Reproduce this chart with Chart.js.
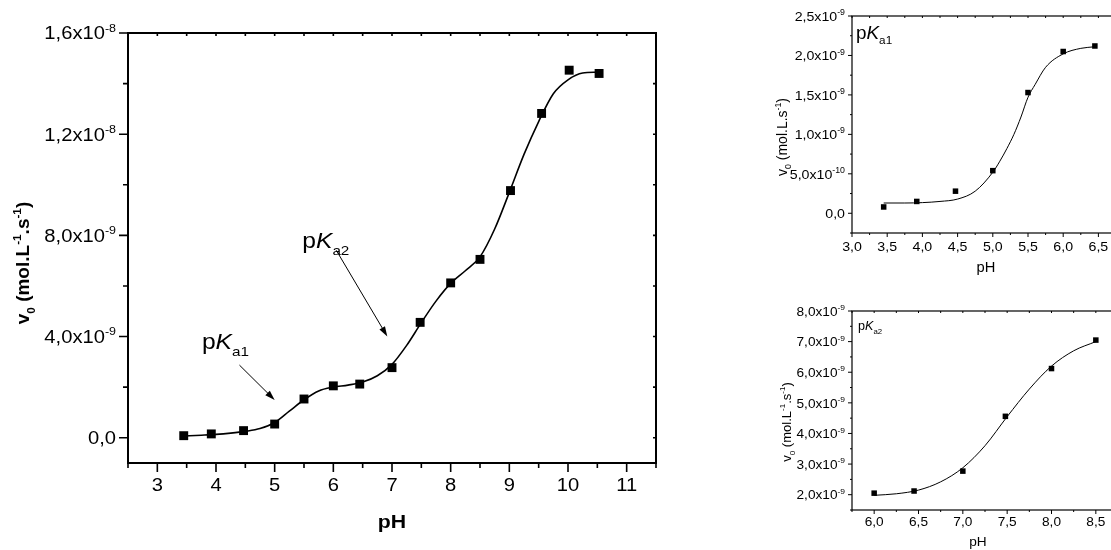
<!DOCTYPE html>
<html>
<head>
<meta charset="utf-8">
<script src="https://cdn.jsdelivr.net/npm/chart.js@4.4.1/dist/chart.umd.min.js"></script>
<style>
  html, body { margin: 0; padding: 0; background: #fff; overflow: hidden; width: 1111px; height: 550px; }
  canvas { position: absolute; }
</style>
</head>
<body>
<canvas id="mainChart" width="700" height="550" style="left:0px;top:0px"></canvas>
<canvas id="ka1Chart" width="360" height="275" style="left:760px;top:0px"></canvas>
<canvas id="ka2Chart" width="362" height="260" style="left:760px;top:290px"></canvas>
<script>
// Measured initial rates v0 (mol.L-1.s-1) against pH
const phValues = [3.45, 3.92, 4.47, 5.0, 5.5, 6.0, 6.45, 7.0, 7.48, 8.0, 8.5, 9.02, 9.55, 10.02, 10.53];
const v0Values = [0.08e-9, 0.15e-9, 0.28e-9, 0.54e-9, 1.53e-9, 2.05e-9, 2.12e-9, 2.77e-9, 4.56e-9, 6.12e-9, 7.05e-9, 9.77e-9, 12.82e-9, 14.53e-9, 14.40e-9];

// Fitted curve over the full pH range
const fitPh = [3.45, 3.75, 4.0, 4.25, 4.5, 4.75, 5.0, 5.25, 5.5, 5.75, 6.0, 6.25, 6.5, 6.75, 7.0, 7.25, 7.5, 7.75, 8.0, 8.25, 8.5, 8.75, 9.0, 9.25, 9.5, 9.75, 10.0, 10.25, 10.5];
const fitV0 = [0.07e-9, 0.1e-9, 0.13e-9, 0.18e-9, 0.25e-9, 0.36e-9, 0.6e-9, 1.05e-9, 1.5e-9, 1.85e-9, 2.0e-9, 2.08e-9, 2.2e-9, 2.45e-9, 2.9e-9, 3.65e-9, 4.55e-9, 5.4e-9, 6.1e-9, 6.6e-9, 7.15e-9, 8.25e-9, 9.7e-9, 11.2e-9, 12.5e-9, 13.6e-9, 14.15e-9, 14.42e-9, 14.45e-9];

// First ionisation (pKa1) fit
const ka1FitPh = [3.45, 3.75, 4.0, 4.25, 4.5, 4.75, 5.0, 5.1, 5.2, 5.3, 5.4, 5.5, 5.6, 5.75, 6.0, 6.25, 6.45];
const ka1FitV0 = [0.13e-9, 0.13e-9, 0.135e-9, 0.15e-9, 0.18e-9, 0.28e-9, 0.52e-9, 0.66e-9, 0.82e-9, 1.0e-9, 1.22e-9, 1.47e-9, 1.63e-9, 1.85e-9, 2.02e-9, 2.09e-9, 2.11e-9];

// Second ionisation (pKa2) fit
const ka2FitPh = [6.0, 6.25, 6.5, 6.75, 7.0, 7.25, 7.5, 7.75, 8.0, 8.25, 8.5];
const ka2FitV0 = [1.98e-9, 2.03e-9, 2.15e-9, 2.42e-9, 2.88e-9, 3.6e-9, 4.55e-9, 5.45e-9, 6.2e-9, 6.7e-9, 7.0e-9];

// Axis ticks and their labels ([mantissa, exponent])
const mainXTicks = [3, 4, 5, 6, 7, 8, 9, 10, 11];
const mainXLabels = ['3', '4', '5', '6', '7', '8', '9', '10', '11'];
const mainYTicks = [0, 4e-9, 8e-9, 1.2e-8, 1.6e-8];
const mainYLabels = [['0,0', ''], ['4,0x10', '-9'], ['8,0x10', '-9'], ['1,2x10', '-8'], ['1,6x10', '-8']];

const ka1XTicks = [3.0, 3.5, 4.0, 4.5, 5.0, 5.5, 6.0, 6.5];
const ka1XLabels = ['3,0', '3,5', '4,0', '4,5', '5,0', '5,5', '6,0', '6,5'];
const ka1YTicks = [0, 5e-10, 1e-9, 1.5e-9, 2e-9, 2.5e-9];
const ka1YLabels = [['0,0', ''], ['5,0x10', '-10'], ['1,0x10', '-9'], ['1,5x10', '-9'], ['2,0x10', '-9'], ['2,5x10', '-9']];

const ka2XTicks = [6.0, 6.5, 7.0, 7.5, 8.0, 8.5];
const ka2XLabels = ['6,0', '6,5', '7,0', '7,5', '8,0', '8,5'];
const ka2YTicks = [2e-9, 3e-9, 4e-9, 5e-9, 6e-9, 7e-9, 8e-9];
const ka2YLabels = [['2,0x10', '-9'], ['3,0x10', '-9'], ['4,0x10', '-9'], ['5,0x10', '-9'], ['6,0x10', '-9'], ['7,0x10', '-9'], ['8,0x10', '-9']];

const FONT = "'Liberation Sans', Arial, sans-serif";

// Text with italic, subscript and superscript runs: segs = [[text, kind], ...]
// stretch widens the glyphs horizontally
function drawRich(ctx, segs, x, y, align, size, weight, stretch) {
  const fontFor = (k) => {
    const small = k === 'sup' || k === 'sub';
    const s = small ? size * 0.62 : size;
    return `${k === 'i' ? 'italic ' : ''}${weight} ${s}px ${FONT}`;
  };
  let w = 0;
  for (const [t, k] of segs) { ctx.font = fontFor(k); w += ctx.measureText(t).width; }
  w *= stretch;
  const x0 = align === 'center' ? x - w / 2 : align === 'right' ? x - w : x;
  ctx.save();
  ctx.translate(x0, y);
  ctx.scale(stretch, 1);
  ctx.textAlign = 'left';
  ctx.textBaseline = 'alphabetic';
  let cx = 0;
  for (const [t, k] of segs) {
    ctx.font = fontFor(k);
    const dy = k === 'sup' ? -size * 0.43 : k === 'sub' ? size * 0.3 : 0;
    ctx.fillText(t, cx, dy);
    cx += ctx.measureText(t).width;
  }
  ctx.restore();
}

function stepValues(min, max, step) {
  const out = [];
  const k0 = Math.ceil(min / step - 1e-6), k1 = Math.floor(max / step + 1e-6);
  for (let k = k0; k <= k1; k++) out.push(k * step);
  return out;
}

// Boxed axes with outward ticks (left/bottom), inward mirrored ticks (top/right), labels and titles
const axisFrame = {
  id: 'axisFrame',
  afterDraw(chart, args, o) {
    const { ctx, chartArea: a } = chart;
    const xs = chart.scales.x, ys = chart.scales.y;
    const S = o.stretch;
    ctx.save();
    ctx.strokeStyle = '#000';
    ctx.fillStyle = '#000';
    ctx.lineWidth = o.frameWidth;
    ctx.strokeRect(a.left, a.top, a.right - a.left, a.bottom - a.top);

    ctx.lineWidth = o.tickWidth;
    ctx.beginPath();
    for (const v of stepValues(xs.min, xs.max, o.xMinorStep)) {
      const px = xs.getPixelForValue(v);
      const major = o.xTicks.some(t => Math.abs(t - v) < 1e-6);
      ctx.moveTo(px, a.bottom); ctx.lineTo(px, a.bottom + (major ? o.majorLen : o.minorLen));
      ctx.moveTo(px, a.top); ctx.lineTo(px, a.top + o.mirrorLen);
    }
    for (const v of stepValues(ys.min, ys.max, o.yMinorStep)) {
      const py = ys.getPixelForValue(v);
      const major = o.yTicks.some(t => Math.abs(t - v) < o.yMinorStep * 1e-3);
      ctx.moveTo(a.left, py); ctx.lineTo(a.left - (major ? o.majorLen : o.minorLen), py);
      ctx.moveTo(a.right, py); ctx.lineTo(a.right - o.mirrorLen, py);
    }
    ctx.stroke();

    // tick labels
    o.xTicks.forEach((v, i) => {
      drawRich(ctx, [[o.xLabels[i], '']], xs.getPixelForValue(v), a.bottom + o.xLabelGap + o.fontSize * 0.36, 'center', o.fontSize, 'normal', S);
    });
    o.yTicks.forEach((v, i) => {
      const [m, e] = o.yLabels[i];
      drawRich(ctx, [[m, ''], [e, 'sup']], a.left - o.yLabelGap, ys.getPixelForValue(v) + o.fontSize * 0.36, 'right', o.fontSize, 'normal', S);
    });

    // axis titles
    drawRich(ctx, o.xTitle, o.xTitlePos[0], o.xTitlePos[1], 'center', o.titleSize, o.titleWeight, S);
    ctx.save();
    ctx.translate(o.yTitlePos[0], o.yTitlePos[1]);
    ctx.rotate(-Math.PI / 2);
    drawRich(ctx, o.yTitle, 0, o.titleSize * 0.36, 'center', o.titleSize, o.titleWeight, 1);
    ctx.restore();

    // annotations: text at data position, optional arrow between data positions
    for (const n of o.notes || []) {
      const tx = xs.getPixelForValue(n.at[0]), ty = ys.getPixelForValue(n.at[1]);
      drawRich(ctx, n.text, tx, ty, 'left', n.size, 'normal', S);
      if (n.arrow) {
        const x0 = xs.getPixelForValue(n.arrow[0]), y0 = ys.getPixelForValue(n.arrow[1]);
        const x1 = xs.getPixelForValue(n.arrow[2]), y1 = ys.getPixelForValue(n.arrow[3]);
        const ang = Math.atan2(y1 - y0, x1 - x0);
        ctx.lineWidth = 1;
        ctx.beginPath();
        ctx.moveTo(x0, y0);
        ctx.lineTo(x1 - 6 * Math.cos(ang), y1 - 6 * Math.sin(ang));
        ctx.stroke();
        ctx.beginPath();
        ctx.moveTo(x1, y1);
        ctx.lineTo(x1 - 10 * Math.cos(ang) + 3.2 * Math.sin(ang), y1 - 10 * Math.sin(ang) - 3.2 * Math.cos(ang));
        ctx.lineTo(x1 - 10 * Math.cos(ang) - 3.2 * Math.sin(ang), y1 - 10 * Math.sin(ang) + 3.2 * Math.cos(ang));
        ctx.closePath();
        ctx.fill();
      }
    }
    // panel label in the corner of the plot area
    if (o.panelLabel) {
      drawRich(ctx, o.panelLabel.text, a.left + o.panelLabel.dx, a.top + o.panelLabel.dy, 'left', o.panelLabel.size, 'normal', S);
    }
    ctx.restore();
  }
};

function pairs(xs, ys) { return xs.map((x, i) => ({ x, y: ys[i] })); }

function buildChart(id, spec) {
  return new Chart(document.getElementById(id), {
    type: 'scatter',
    data: {
      datasets: [
        {
          type: 'line',
          data: pairs(spec.fitX, spec.fitY),
          borderColor: '#000',
          borderWidth: spec.lineWidth,
          pointRadius: 0,
          cubicInterpolationMode: 'monotone',
          fill: false
        },
        {
          type: 'scatter',
          data: pairs(spec.ptX, spec.ptY),
          pointStyle: 'rect',
          pointRadius: spec.pointRadius,
          backgroundColor: '#000',
          borderColor: '#000',
          borderWidth: 0
        }
      ]
    },
    options: {
      responsive: false,
      animation: false,
      events: [],
      layout: { padding: { top: spec.area.top, right: spec.area.right, left: 0, bottom: 0 } },
      plugins: { legend: { display: false }, tooltip: { enabled: false }, axisFrame: spec.frame },
      scales: {
        x: {
          type: 'linear', min: spec.xRange[0], max: spec.xRange[1],
          ticks: { display: false }, grid: { display: false }, border: { display: false },
          afterFit(s) { s.height = spec.area.bottom; }
        },
        y: {
          type: 'linear', min: spec.yRange[0], max: spec.yRange[1],
          ticks: { display: false }, grid: { display: false }, border: { display: false },
          afterFit(s) { s.width = spec.area.left; }
        }
      }
    },
    plugins: [axisFrame]
  });
}

const pK = (sub) => [['p', ''], ['K', 'i'], [sub, 'sub']];

// Full pH profile
buildChart('mainChart', {
  fitX: fitPh, fitY: fitV0, ptX: phValues, ptY: v0Values,
  lineWidth: 1.6, pointRadius: 6.3,
  xRange: [2.5, 11.5], yRange: [-1e-9, 1.6e-8],
  area: { top: 33, right: 44, left: 128, bottom: 87 },
  frame: {
    frameWidth: 2, tickWidth: 1.6, xMinorStep: 0.5, yMinorStep: 2e-9, stretch: 1.12,
    xTicks: mainXTicks, xLabels: mainXLabels, yTicks: mainYTicks, yLabels: mainYLabels,
    majorLen: 9, minorLen: 5, mirrorLen: 3, fontSize: 18, xLabelGap: 22, yLabelGap: 12,
    titleSize: 19, titleWeight: 'bold',
    xTitle: [['pH', '']], xTitlePos: [392, 528],
    yTitle: [['v', ''], ['0', 'sub'], [' (mol.L', ''], ['-1', 'sup'], ['.s', ''], ['-1', 'sup'], [')', '']],
    yTitlePos: [22, 263],
    notes: [
      { text: pK('a1'), at: [3.76, 3.5e-9], size: 22, arrow: [4.4, 2.87e-9, 5.0, 1.49e-9] },
      { text: pK('a2'), at: [5.47, 7.5e-9], size: 22, arrow: [6.05, 7.41e-9, 6.92, 4.0e-9] }
    ]
  }
});

// pKa1 region
buildChart('ka1Chart', {
  fitX: ka1FitPh, fitY: ka1FitV0, ptX: phValues.slice(0, 7), ptY: v0Values.slice(0, 7),
  lineWidth: 1, pointRadius: 3.9,
  xRange: [3.0, 6.75], yRange: [-2.5e-10, 2.5e-9],
  area: { top: 16, right: 1, left: 92, bottom: 42 },
  frame: {
    frameWidth: 1.2, tickWidth: 1, xMinorStep: 0.25, yMinorStep: 2.5e-10, stretch: 1.05,
    xTicks: ka1XTicks, xLabels: ka1XLabels, yTicks: ka1YTicks, yLabels: ka1YLabels,
    majorLen: 4, minorLen: 2, mirrorLen: 2, fontSize: 13.5, xLabelGap: 13, yLabelGap: 7,
    titleSize: 14, titleWeight: 'normal',
    xTitle: [['pH', '']], xTitlePos: [226, 272],
    yTitle: [['v', ''], ['0', 'sub'], [' (mol.L.s', ''], ['-1', 'sup'], [')', '']],
    yTitlePos: [22, 137],
    panelLabel: { text: pK('a1'), dx: 4, dy: 23, size: 18 }
  }
});

// pKa2 region
buildChart('ka2Chart', {
  fitX: ka2FitPh, fitY: ka2FitV0, ptX: phValues.slice(5, 11), ptY: v0Values.slice(5, 11),
  lineWidth: 1, pointRadius: 3.9,
  xRange: [5.75, 8.75], yRange: [1.5e-9, 8.0e-9],
  area: { top: 21, right: 1.5, left: 92, bottom: 40 },
  frame: {
    frameWidth: 1.2, tickWidth: 1, xMinorStep: 0.25, yMinorStep: 5e-10, stretch: 1.05,
    xTicks: ka2XTicks, xLabels: ka2XLabels, yTicks: ka2YTicks, yLabels: ka2YLabels,
    majorLen: 4, minorLen: 2, mirrorLen: 2, fontSize: 13, xLabelGap: 11, yLabelGap: 7,
    titleSize: 13, titleWeight: 'normal',
    xTitle: [['pH', '']], xTitlePos: [218, 256],
    yTitle: [['v', ''], ['0', 'sub'], [' (mol.L', ''], ['-1', 'sup'], ['.s', ''], ['-1', 'sup'], [')', '']],
    yTitlePos: [26, 132],
    panelLabel: { text: pK('a2'), dx: 6, dy: 19, size: 12 }
  }
});
</script>
</body>
</html>
